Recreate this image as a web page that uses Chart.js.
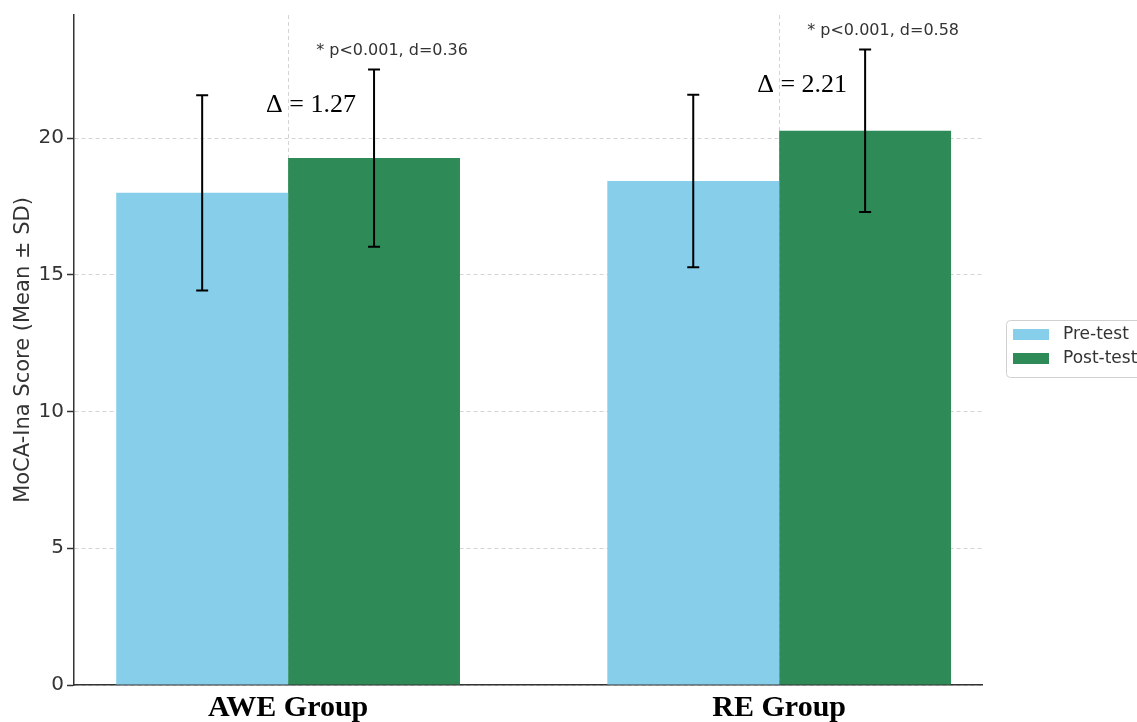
<!DOCTYPE html>
<html>
<head>
<meta charset="utf-8">
<script src="https://cdn.jsdelivr.net/npm/chart.js@4.4.0/dist/chart.umd.min.js"></script>
<style>
  html, body { margin: 0; padding: 0; background: #fff; overflow: hidden; }
  #wrap { width: 1137px; height: 722px; position: relative; }
</style>
</head>
<body>
<div id="wrap"><canvas id="myChart"></canvas></div>
<script>
// data
const categories = ['AWE Group', 'RE Group']
const preMeans = [18.0, 18.43]
const preSD = [3.57, 3.15]
const postMeans = [19.27, 20.27]
const postSD = [3.24, 2.97]
const deltaLabels = ['Δ = 1.27', 'Δ = 2.21']
const pLabels = ['* p<0.001, d=0.36', '* p<0.001, d=0.58']
const yTicks = [0, 5, 10, 15, 20]

const preColor = '#87CEEB'
const postColor = '#2E8B57'

const toPoints = (arr) => arr.map((v, i) => ({ x: i, y: v }))

// error bars drawn from mean +/- sd through the y scale
const errorBars = {
    id: 'errorBars',
    afterDatasetsDraw(chart) {
        const { ctx, scales: { y } } = chart
        const sds = [preSD, postSD]
        ctx.save()
        ctx.strokeStyle = '#000'
        ctx.lineWidth = 2
        chart.data.datasets.forEach((ds, di) => {
            const meta = chart.getDatasetMeta(di)
            meta.data.forEach((bar, i) => {
                const m = ds.data[i].y
                const top = y.getPixelForValue(m + sds[di][i])
                const bot = y.getPixelForValue(m - sds[di][i])
                ctx.beginPath()
                ctx.moveTo(bar.x, top); ctx.lineTo(bar.x, bot)
                ctx.moveTo(bar.x - 6, top); ctx.lineTo(bar.x + 6, top)
                ctx.moveTo(bar.x - 6, bot); ctx.lineTo(bar.x + 6, bot)
                ctx.stroke()
            })
        })
        ctx.restore()
    }
}

// delta and p-value notes above the post-test bars
const notes = {
    id: 'notes',
    afterDraw(chart) {
        const { ctx, scales: { y } } = chart
        const meta = chart.getDatasetMeta(1)
        ctx.save()
        ctx.textAlign = 'center'
        ctx.textBaseline = 'middle'
        meta.data.forEach((bar, i) => {
            const capTop = y.getPixelForValue(postMeans[i] + postSD[i])
            ctx.fillStyle = '#333'
            ctx.font = '16px "DejaVu Sans"'
            ctx.fillText(pLabels[i], bar.x + 18, capTop - 19)
            ctx.fillStyle = '#000'
            ctx.font = '26px "Liberation Serif"'
            ctx.fillText(deltaLabels[i], bar.x - 63, capTop + 36)
        })
        ctx.restore()
    }
}

// legend box on the right, partly cut off like the original
const sideLegend = {
    id: 'sideLegend',
    afterDraw(chart) {
        const { ctx, chartArea } = chart
        const left = chartArea.right + 24
        const top = (chartArea.top + chartArea.bottom) / 2 - 30
        ctx.save()
        ctx.strokeStyle = '#d0d0d0'
        ctx.lineWidth = 1
        ctx.beginPath()
        ctx.roundRect(left + 0.5, top + 0.5, 160, 57, 4)
        ctx.stroke()
        ctx.font = '17px "DejaVu Sans"'
        ctx.textBaseline = 'middle'
        chart.data.datasets.forEach((ds, i) => {
            const yy = top + 14 + i * 24
            ctx.fillStyle = ds.backgroundColor
            ctx.fillRect(left + 7, yy - 5, 36, 11)
            ctx.fillStyle = '#333'
            ctx.fillText(ds.label, left + 57, yy + 1)
        })
        ctx.restore()
    }
}

const ctx = document.getElementById('myChart')

new Chart(ctx, {
    type: 'bar',
    data: {
        datasets: [{
            label: 'Pre-test',
            data: toPoints(preMeans),
            backgroundColor: preColor,
            borderWidth: 0
        }, {
            label: 'Post-test',
            data: toPoints(postMeans),
            backgroundColor: postColor,
            borderWidth: 0
        }]
    },
    options: {
        responsive: true,
        maintainAspectRatio: false,
        animation: false,
        categoryPercentage: 0.7,
        barPercentage: 1,
        layout: { padding: { top: 12, right: 155, left: 0, bottom: 0 } },
        plugins: {
            legend: { display: false },
            tooltip: { enabled: false }
        },
        scales: {
            x: {
                type: 'linear',
                min: -0.436,
                max: 1.413,
                offset: false,
                afterBuildTicks: (scale) => {
                    scale.ticks = categories.map((c, i) => ({ value: i }))
                },
                afterFit: (scale) => { scale.height = 37 },
                ticks: {
                    callback: (v) => categories[v],
                    color: '#000',
                    font: { family: 'Liberation Serif', size: 30, weight: 'bold' },
                    padding: 5,
                    maxRotation: 0
                },
                grid: { offset: false, color: '#d4d4d4', lineWidth: 1, drawTicks: false },
                border: { color: '#333', width: 1.5, dash: [4, 3] }
            },
            y: {
                min: 0,
                max: 24.5,
                afterBuildTicks: (scale) => {
                    scale.ticks = yTicks.map(v => ({ value: v }))
                },
                afterFit: (scale) => { scale.width = 74 },
                ticks: {
                    color: '#333',
                    font: { family: 'DejaVu Sans', size: 20 },
                    padding: 3
                },
                grid: { color: '#d4d4d4', lineWidth: 1, tickLength: 7, tickColor: '#333', tickWidth: 1.5 },
                border: { color: '#333', width: 1.5, dash: [4, 3] },
                title: {
                    display: true,
                    text: 'MoCA-Ina Score (Mean ± SD)',
                    color: '#333',
                    font: { family: 'DejaVu Sans', size: 21 },
                    padding: { top: 11, bottom: 0 }
                }
            }
        }
    },
    plugins: [errorBars, notes, sideLegend]
})
</script>
</body>
</html>
